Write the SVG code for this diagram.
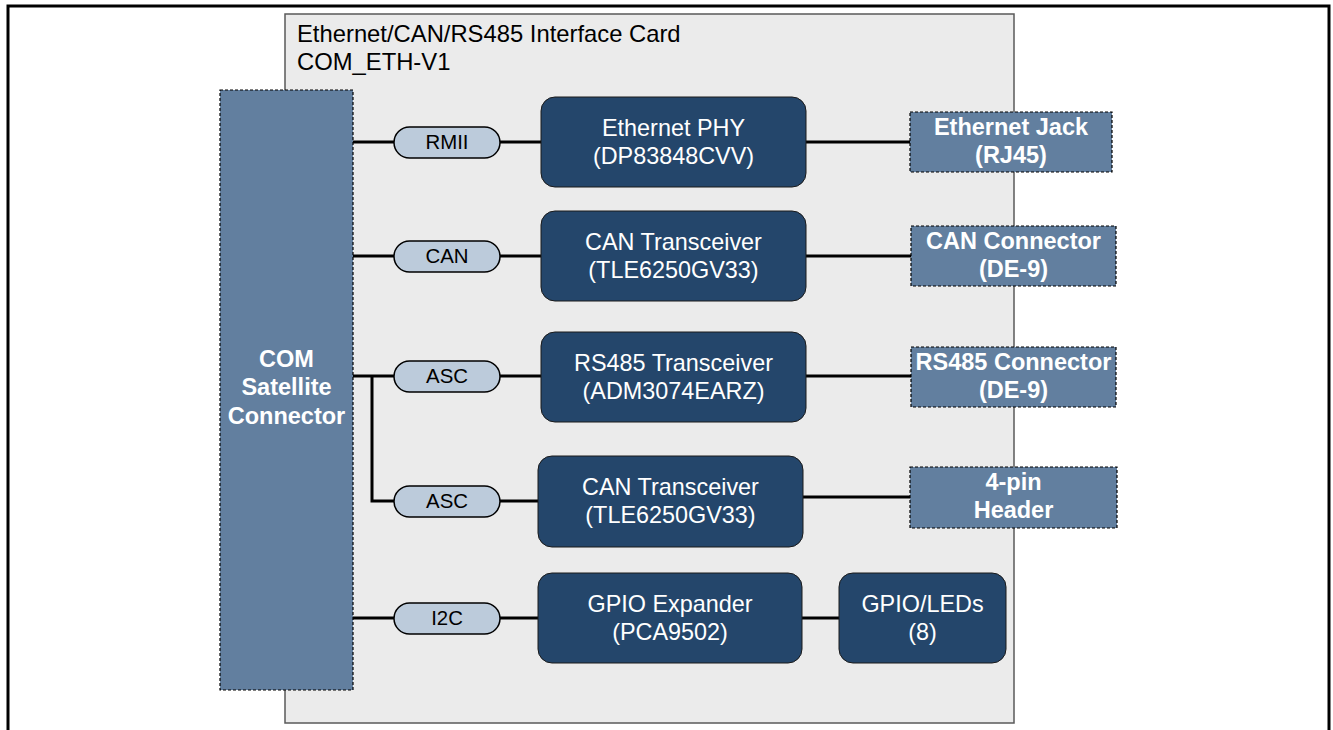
<svg xmlns="http://www.w3.org/2000/svg" width="1333" height="730" viewBox="0 0 1333 730">
<style>
.frame{fill:#ffffff;stroke:#000;stroke-width:3}
.card{fill:#ebebeb;stroke:#5a5a5a;stroke-width:1.5}
.title{font-family:"Liberation Sans",Arial,sans-serif;font-size:23.8px;fill:#000}
.blk{fill:#24466b;stroke:#1a1a1a;stroke-width:1}
.con{fill:#627f9f;stroke:#000;stroke-width:1.2;stroke-dasharray:3 2}
.pill{fill:#bccbdb;stroke:#000;stroke-width:1.5}
.w{font-family:"Liberation Sans",Arial,sans-serif;font-size:23.4px;fill:#fff;text-anchor:middle}
.wb{font-family:"Liberation Sans",Arial,sans-serif;font-size:23.5px;font-weight:bold;fill:#fff;text-anchor:middle}
.pt{font-family:"Liberation Sans",Arial,sans-serif;font-size:20.4px;fill:#000;text-anchor:middle}
.ln{fill:none;stroke:#000;stroke-width:3}
</style>
<rect class="frame" x="8" y="6" width="1321" height="740"/>
<g id="card">
<rect class="card" x="285" y="14" width="729" height="709"/>
<text class="title" x="297" y="42">Ethernet/CAN/RS485 Interface Card</text>
<text class="title" x="297" y="70">COM_ETH-V1</text>
</g>
<g id="connectors">
<path class="ln" d="M353 142H394M500 142H541M806 142H910"/>
<path class="ln" d="M353 256H394M500 256H541M806 256H911"/>
<path class="ln" d="M353 376H394M500 376H541M806 376H911"/>
<path class="ln" d="M372 376V501H394M500 501H538M803 497H910"/>
<path class="ln" d="M353 618H394M500 618H538M802 618H839"/>
</g>
<g id="com-satellite">
<rect class="con" x="220" y="90" width="133" height="600"/>
<text class="wb" x="286.5" y="367">COM</text>
<text class="wb" x="286.5" y="395">Satellite</text>
<text class="wb" x="286.5" y="424">Connector</text>
</g>
<g id="pill-rmii"><rect class="pill" x="394" y="127" width="106" height="31" rx="15.5"/><text class="pt" x="447" y="149">RMII</text></g>
<g id="pill-can"><rect class="pill" x="394" y="241" width="106" height="31" rx="15.5"/><text class="pt" x="447" y="263">CAN</text></g>
<g id="pill-asc1"><rect class="pill" x="394" y="361" width="106" height="31" rx="15.5"/><text class="pt" x="447" y="383">ASC</text></g>
<g id="pill-asc2"><rect class="pill" x="394" y="486" width="106" height="31" rx="15.5"/><text class="pt" x="447" y="508">ASC</text></g>
<g id="pill-i2c"><rect class="pill" x="394" y="603" width="106" height="31" rx="15.5"/><text class="pt" x="447" y="625">I2C</text></g>
<g id="eth-phy"><rect class="blk" x="541" y="97" width="265" height="90" rx="14"/><text class="w" x="673.5" y="136">Ethernet PHY</text><text class="w" x="673.5" y="164">(DP83848CVV)</text></g>
<g id="can-xcvr1"><rect class="blk" x="541" y="211" width="265" height="90" rx="14"/><text class="w" x="673.5" y="250">CAN Transceiver</text><text class="w" x="673.5" y="278">(TLE6250GV33)</text></g>
<g id="rs485-xcvr"><rect class="blk" x="541" y="332" width="265" height="90" rx="14"/><text class="w" x="673.5" y="371">RS485 Transceiver</text><text class="w" x="673.5" y="399">(ADM3074EARZ)</text></g>
<g id="can-xcvr2"><rect class="blk" x="538" y="456" width="265" height="91" rx="14"/><text class="w" x="670.5" y="495">CAN Transceiver</text><text class="w" x="670.5" y="523">(TLE6250GV33)</text></g>
<g id="gpio-exp"><rect class="blk" x="538" y="573" width="264" height="90" rx="14"/><text class="w" x="670" y="612">GPIO Expander</text><text class="w" x="670" y="640">(PCA9502)</text></g>
<g id="gpio-leds"><rect class="blk" x="839" y="573" width="167" height="90" rx="14"/><text class="w" x="922.5" y="612">GPIO/LEDs</text><text class="w" x="922.5" y="640">(8)</text></g>
<g id="eth-jack"><rect class="con" x="910" y="112" width="202" height="60"/><text class="wb" x="1011" y="135">Ethernet Jack</text><text class="wb" x="1011" y="163">(RJ45)</text></g>
<g id="can-conn"><rect class="con" x="911" y="226" width="205" height="60"/><text class="wb" x="1013.5" y="249">CAN Connector</text><text class="wb" x="1013.5" y="277">(DE-9)</text></g>
<g id="rs485-conn"><rect class="con" x="911" y="347" width="205" height="60"/><text class="wb" x="1013.5" y="370">RS485 Connector</text><text class="wb" x="1013.5" y="398">(DE-9)</text></g>
<g id="hdr"><rect class="con" x="910" y="467" width="207" height="61"/><text class="wb" x="1013.5" y="490">4-pin</text><text class="wb" x="1013.5" y="518">Header</text></g>
</svg>
